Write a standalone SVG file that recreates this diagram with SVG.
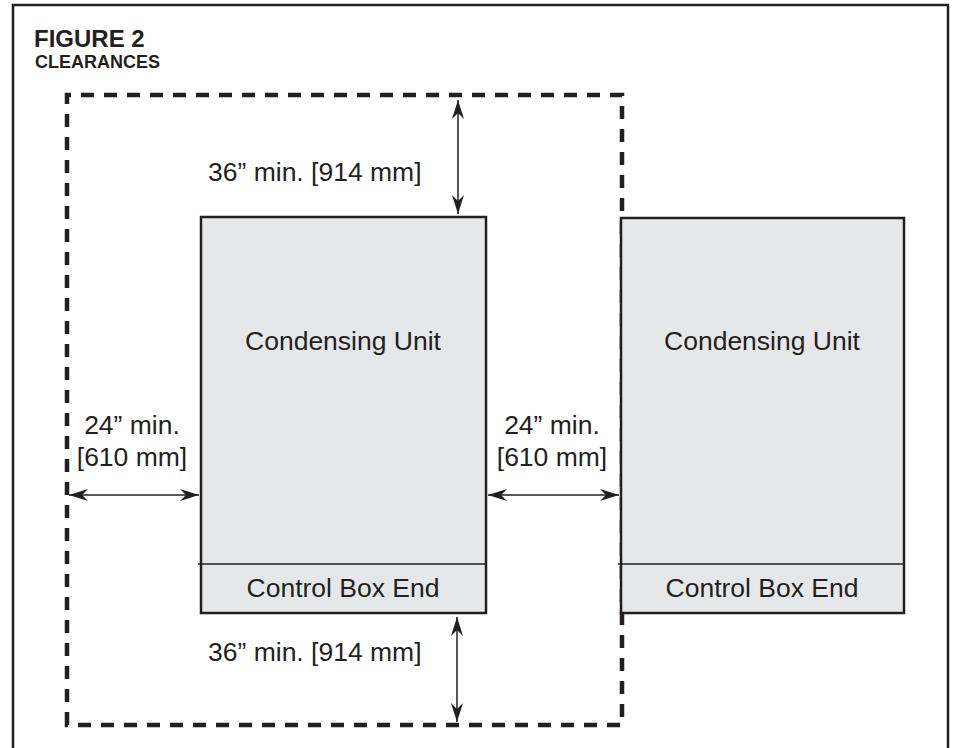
<svg xmlns="http://www.w3.org/2000/svg" width="954" height="748" viewBox="0 0 954 748">
<defs>
<style>
text{font-family:"Liberation Sans",Arial,sans-serif;fill:#231f20}
.lbl{font-size:26.5px}
.unit{fill:#e6e7e8;stroke:#231f20;stroke-width:2.5}
.div{stroke:#231f20;stroke-width:1.5}
.dim{stroke:#231f20;stroke-width:1.5;fill:none;marker-start:url(#ah);marker-end:url(#ah)}
</style>
<marker id="ah" markerUnits="userSpaceOnUse" viewBox="-20 -8 21 16" markerWidth="21" markerHeight="16" refX="0" refY="0" orient="auto-start-reverse">
<path d="M0,0 L-19,-6 L-13,0 L-19,6 Z" fill="#231f20"/>
</marker>
</defs>
<rect x="13" y="5" width="935" height="760" fill="#fff" stroke="#231f20" stroke-width="2.5"/>
<text x="34" y="47" font-size="24" font-weight="bold">FIGURE 2</text>
<text x="35" y="68" font-size="18" font-weight="bold">CLEARANCES</text>
<g id="clearance-zone">
<path d="M67,725 L67,95 L622,95 L622,725 Z" fill="none" stroke="#231f20" stroke-width="4.5" stroke-dasharray="13 10"/>
</g>
<g id="unit-left">
<rect class="unit" x="201" y="217" width="285" height="396"/>
<line class="div" x1="198" y1="564" x2="486" y2="564"/>
<text class="lbl" x="343" y="350" text-anchor="middle">Condensing Unit</text>
<text class="lbl" x="343" y="597" text-anchor="middle">Control Box End</text>
</g>
<g id="unit-right">
<rect class="unit" x="621" y="218" width="283" height="395"/>
<line class="div" x1="618" y1="564" x2="904" y2="564"/>
<text class="lbl" x="762" y="350" text-anchor="middle">Condensing Unit</text>
<text class="lbl" x="762" y="597" text-anchor="middle">Control Box End</text>
</g>
<g id="connectors">
<line class="dim" x1="458" y1="100" x2="458" y2="214"/>
<line class="dim" x1="457" y1="617" x2="457" y2="722"/>
<line class="dim" x1="69" y1="495" x2="199" y2="495"/>
<line class="dim" x1="488" y1="495" x2="619" y2="495"/>
</g>
<g id="labels">
<text class="lbl" x="208" y="181">36” min. [914 mm]</text>
<text class="lbl" x="208" y="661">36” min. [914 mm]</text>
<text class="lbl" x="132" y="434" text-anchor="middle">24” min.</text>
<text class="lbl" x="132" y="466" text-anchor="middle">[610 mm]</text>
<text class="lbl" x="552" y="434" text-anchor="middle">24” min.</text>
<text class="lbl" x="552" y="466" text-anchor="middle">[610 mm]</text>
</g>
</svg>
